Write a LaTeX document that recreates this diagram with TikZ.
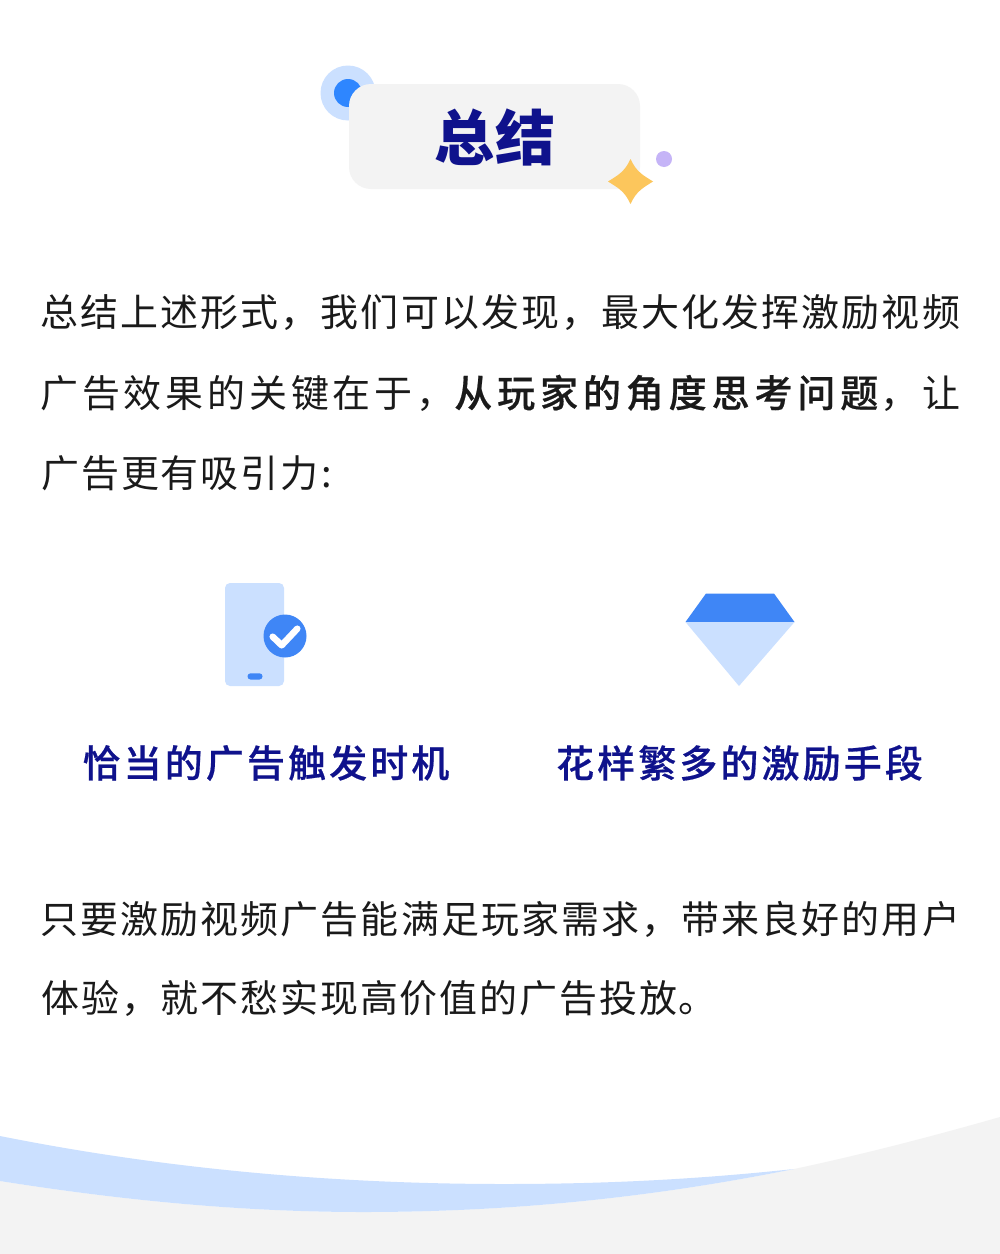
\documentclass[tikz,border=0pt]{standalone}
\usepackage{fontspec}
\usetikzlibrary{positioning}
\newfontfamily\cjk[LetterSpace=5.6]{Noto Sans CJK SC}
\newfontfamily\cjkshort[LetterSpace=5]{Noto Sans CJK SC}
\newfontfamily\cjkwide[LetterSpace=10.1]{Noto Sans CJK SC}
\newfontfamily\cjkmedwide[LetterSpace=13,FakeBold=0.5]{Noto Sans CJK SC Medium}
\newfontfamily\cjkmedhead[LetterSpace=8.3,FakeBold=0.5]{Noto Sans CJK SC Medium}
\newfontfamily\cjktitle{Noto Sans CJK SC}
\definecolor{navy}{HTML}{0F128C}
\definecolor{ink}{HTML}{1A1A1A}
\definecolor{pale}{HTML}{CBE0FF}
\definecolor{midblue}{HTML}{3F86F6}
\definecolor{dotblue}{HTML}{2E86FF}
\definecolor{panel}{HTML}{F3F3F3}
\definecolor{lilac}{HTML}{C5B4F7}
\definecolor{sparkle}{HTML}{FCC65C}
\tikzset{
  bodytext/.style={anchor=west,inner sep=0pt,text=ink,font=\cjk\fontsize{21.6}{26}\selectfont},
  shorttext/.style={bodytext,font=\cjkshort\fontsize{21.6}{26}\selectfont},
  headtext/.style={inner sep=0pt,text=navy,font=\cjkmedhead\fontsize{21.6}{26}\selectfont},
}
\begin{document}
\begin{tikzpicture}[x=0.02cm,y=-0.02cm]
  \useasboundingbox (0,0) rectangle (1000,1254);
  \fill[white] (0,0) rectangle (1000,1254);
  % title
  \fill[pale] (348,93) circle (27.5);
  \fill[dotblue] (348,93) circle (14);
  \fill[panel,rounded corners=0.44cm] (349,84) rectangle (640,189);
  \fill[lilac] (664,159) circle (8);
  \fill[sparkle] (630.5,159) .. controls (636.5,172.3) and (643.7,175.5) .. (653,181.5)
    .. controls (643.7,187.5) and (636.5,190.7) .. (630.5,204)
    .. controls (624.5,190.7) and (617.3,187.5) .. (608,181.5)
    .. controls (617.3,175.5) and (624.5,172.3) .. (630.5,159) -- cycle;
  \node[inner sep=0pt,text=navy,font=\cjktitle\bfseries\fontsize{34.2}{40}\selectfont] (title) at (495,137) {总结};
  % intro
  \node[bodytext] (introa) at (40,313) {总结上述形式，我们可以发现，最大化发挥激励视频};
  \node[bodytext,font=\cjkwide\fontsize{21.6}{26}\selectfont] (introb) at (40,393) {广告效果的关键在于，{\cjkmedwide 从玩家的角度思考问题}\hspace{1.5pt}，让};
  \node[shorttext] (introc) at (41,473) {广告更有吸引力\hspace{1.5pt}:};
  % phone
  \fill[pale,rounded corners=0.1cm] (225,583) rectangle (284,686);
  \fill[midblue,rounded corners=0.06cm] (247.5,673.3) rectangle (262.5,679.5);
  \fill[midblue] (285,636) circle (21.5);
  \draw[white,line width=0.13cm,line cap=round,line join=round] (272.7,636.7) -- (281.7,645.3) -- (297.3,628.7);
  % gem
  \fill[midblue] (706,593.5) -- (774,593.5) -- (794.5,622) -- (685.5,622) -- cycle;
  \fill[pale] (685.5,622) -- (794.5,622) -- (739,686) -- cycle;
  \node[headtext] (heada) at (266,763) {恰当的广告触发时机};
  \node[headtext] (headb) at (739.5,763) {花样繁多的激励手段};
  % outro
  \node[bodytext] (outroa) at (40,919) {只要激励视频广告能满足玩家需求，带来良好的用户};
  \node[shorttext] (outrob) at (41,998) {体验，就不愁实现高价值的广告投放。};
  % bottom waves
  \fill[panel] (0,1181) .. controls (120,1200) and (240,1212) .. (363,1212)
    .. controls (510,1212) and (650,1198) .. (794,1169)
    .. controls (860,1155) and (930,1137) .. (1000,1117) -- (1000,1254) -- (0,1254) -- cycle;
  \fill[pale] (0,1136) .. controls (170,1170) and (340,1184) .. (504,1184)
    .. controls (610,1184) and (700,1179) .. (794,1169)
    .. controls (650,1198) and (510,1212) .. (363,1212)
    .. controls (240,1212) and (120,1200) .. (0,1181) -- cycle;
\end{tikzpicture}
\end{document}
